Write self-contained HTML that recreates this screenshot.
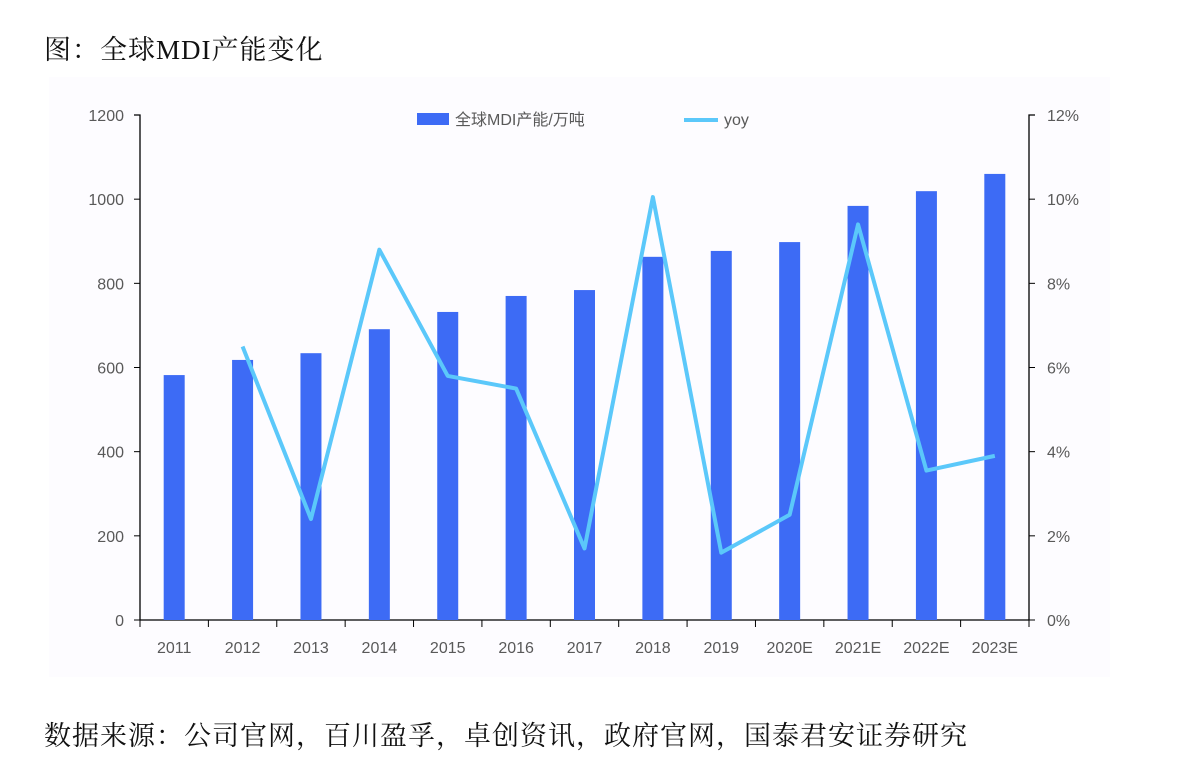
<!DOCTYPE html>
<html><head><meta charset="utf-8"><style>
body{margin:0;width:1180px;height:766px;background:#fff;overflow:hidden;font-family:"Liberation Serif","Noto Serif CJK SC",serif;}
.title{position:absolute;left:44px;top:28px;font-size:27px;color:#111;letter-spacing:1px;}
.src{position:absolute;left:44px;top:714px;font-size:27px;color:#111;letter-spacing:1px;}
svg{position:absolute;left:0;top:0;}
</style></head><body>
<div class="title">图：全球MDI产能变化</div>
<svg width="1180" height="766">
<rect x="49" y="77" width="1061" height="600" fill="#fdfcff"/>
<g id="g"></g>
</svg>
<div class="src">数据来源：公司官网，百川盈孚，卓创资讯，政府官网，国泰君安证券研究</div>
<script>
const categories=["2011","2012","2013","2014","2015","2016","2017","2018","2019","2020E","2021E","2022E","2023E"];
const capacity=[582,618,634,691,732,770,784,863,877,898,984,1019,1060];
const yoy=[null,6.5,2.4,8.8,5.8,5.5,1.7,10.05,1.6,2.5,9.4,3.55,3.9];
const leftTicks=[0,200,400,600,800,1000,1200];
const rightTicks=[0,2,4,6,8,10,12];
const NS="http://www.w3.org/2000/svg";
const g=document.getElementById('g');
const X0=140,X1=1029,Y0=620,Y1=115;
const bw=(X1-X0)/categories.length;
const xc=i=>X0+bw*(i+0.5);
const yl=v=>Y0-(v/1200)*(Y0-Y1);
const yr=v=>Y0-(v/12)*(Y0-Y1);
function el(t,a){const e=document.createElementNS(NS,t);for(const k in a)e.setAttribute(k,a[k]);g.appendChild(e);return e;}
const F='font-family:"Liberation Sans","Noto Sans CJK SC",sans-serif;font-size:16px;fill:#595959';
// axes
let e=el('path',{d:`M${X0-6} ${Y1}H${X0}V${Y0}H${X1}V${Y1}H${X1+6}`,fill:'none',stroke:'#000','stroke-width':1.3});


leftTicks.forEach(v=>{
  let t=el('line',{x1:X0-6,x2:X0,y1:yl(v),y2:yl(v),stroke:'#000'});
  
  
  let l=el('text',{x:X0-16,y:yl(v)+6,'text-anchor':'end',style:F});l.textContent=v;
  
  
});
rightTicks.forEach(v=>{
  let t=el('line',{x1:X1,x2:X1+6,y1:yr(v),y2:yr(v),stroke:'#000'});
  
  
  let l=el('text',{x:X1+18,y:yr(v)+6,style:F});l.textContent=v+'%';
  
  
});
for(let i=0;i<=categories.length;i++){
  let t=el('line',{x1:X0+bw*i,x2:X0+bw*i,y1:Y0,y2:Y0+7,stroke:'#000'});
  
  
}
categories.forEach((c,i)=>{
  let l=el('text',{x:xc(i),y:Y0+33,'text-anchor':'middle',style:F});l.textContent=c;
  
  
  let b=el('rect',{x:xc(i)-10.5,y:yl(capacity[i]),width:21,height:Y0-yl(capacity[i]),fill:'#3d6bf5'});
  
  
});
let pts=[];yoy.forEach((v,i)=>{if(v!==null)pts.push(xc(i)+','+yr(v));});
let ln=el('polyline',{points:pts.join(' '),fill:'none',stroke:'#5bc8fa','stroke-width':4,'stroke-linejoin':'round'});


// legend
let lr=el('rect',{x:417,y:113,width:32,height:12,fill:'#3d6bf5'});


let lt=el('text',{x:455,y:125,style:F});lt.textContent='全球MDI产能/万吨';


let ll=el('line',{x1:684,x2:718,y1:120,y2:120,stroke:'#5bc8fa','stroke-width':4});


let lt2=el('text',{x:724,y:125,style:F});lt2.textContent='yoy';


</script>
</body></html>
